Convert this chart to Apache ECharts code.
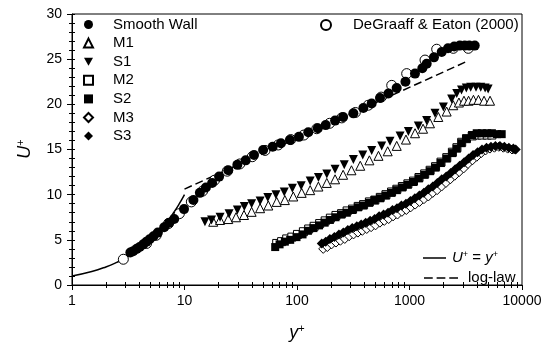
<!DOCTYPE html>
<html>
<head>
<meta charset="utf-8">
<script src="https://cdn.jsdelivr.net/npm/echarts@6/dist/echarts.min.js"></script>
<style>
  html, body { margin: 0; padding: 0; background: #fff; }
  #main { width: 545px; height: 350px; }
</style>
</head>
<body>
<div id="main"></div>
<script>
// values: [y+, U+]
var smoothWall = [[3.3,3.6],[3.5,3.75],[3.76,4.0],[4.0,4.2],[4.3,4.5],[4.6,4.8],[4.9,5.06],[5.3,5.4],[5.8,5.8],[6.6,6.4],[7.3,6.9],[8.1,7.3],[9.9,8.4],[12,9.4],[13.7,10.2],[15.5,10.8],[17.6,11.3],[20.3,12.0],[24.5,12.7],[29.5,13.3],[35,13.8],[41.5,14.4],[50,14.95],[60.8,15.3],[72,15.7],[86.7,16.05],[104,16.4],[126,16.9],[153,17.35],[180,17.7],[218,18.2],[257,18.6],[317,19.0],[389,19.6],[461,20.1],[547,20.7],[650,21.2],[769,21.8],[920,22.5],[1119,23.4],[1300,24.0],[1422,24.5],[1650,25.2],[1932,25.8],[2200,26.2],[2500,26.4],[2800,26.5],[3100,26.5],[3400,26.5],[3800,26.5]];
var degraaff = [[2.86,2.85],[4.6,4.6],[5.6,5.5],[7.2,6.8],[9.0,7.9],[11.5,9.2],[14.5,10.4],[18.5,11.6],[24,12.6],[31,13.4],[40,14.2],[52,14.9],[68,15.5],[88,16.1],[115,16.6],[150,17.3],[195,17.9],[250,18.5],[330,19.1],[430,19.9],[560,20.8],[695,22.1],[944,23.4],[1374,24.9],[1745,26.1],[2450,26.2],[3330,26.2]];
var m1 = [[18,7.0],[20.7,7.2],[24.5,7.3],[28.7,7.5],[33.8,7.75],[39.5,8.1],[47,8.5],[55.6,8.8],[66,9.2],[78,9.4],[92.7,9.8],[110,10.2],[131,10.5],[155,10.9],[184,11.3],[218,11.7],[257,12.2],[305,12.7],[365,13.2],[440,13.8],[530,14.3],[640,14.8],[770,15.4],[930,16.1],[1120,16.8],[1320,17.3],[1521,17.9],[1803,18.6],[2140,19.2],[2450,19.9],[2750,20.2],[3050,20.4],[3350,20.4],[3700,20.5],[4100,20.5],[4600,20.4],[5200,20.4]];
var s1 = [[15.2,7.0],[17.4,7.2],[20.7,7.5],[24.9,7.9],[29.5,8.3],[34,8.7],[39.5,9.0],[47,9.3],[55,9.7],[65,10.0],[77,10.3],[91,10.7],[109,11.0],[131,11.5],[155,11.9],[184,12.3],[218,12.8],[263,13.3],[317,13.9],[384,14.4],[461,14.9],[566,15.4],[671,15.9],[824,16.5],[977,17.0],[1197,17.6],[1420,18.2],[1686,19.0],[2000,19.7],[2370,20.6],[2630,21.2],[2900,21.6],[3200,21.8],[3500,21.9],[3900,21.9],[4300,21.9],[4700,21.8],[5000,21.7]];
var m2 = [[66,4.6],[73,4.8],[81,5.1],[90,5.3],[101,5.6],[114,5.9],[127,6.2],[142,6.5],[159,6.8],[178,7.1],[198,7.4],[222,7.7],[249,7.9],[279,8.2],[312,8.4],[350,8.7],[391,8.9],[440,9.2],[492,9.4],[550,9.7],[618,10.0],[693,10.3],[772,10.6],[864,10.9],[968,11.2],[1085,11.5],[1215,11.9],[1365,12.3],[1525,12.7],[1705,13.1],[1905,13.6],[2145,14.1],[2405,14.7],[2640,15.2],[2910,15.8],[3210,16.2],[3610,16.5],[3970,16.6],[4410,16.6],[4910,16.6],[5400,16.6]];
var s2 = [[64,4.2],[70,4.5],[78,4.8],[87,5.0],[99,5.3],[112,5.6],[125,6.0],[140,6.3],[157,6.6],[176,6.9],[196,7.2],[220,7.5],[247,7.8],[277,8.0],[310,8.3],[348,8.6],[389,8.8],[437,9.1],[490,9.4],[547,9.6],[615,9.9],[690,10.2],[769,10.5],[860,10.8],[965,11.1],[1081,11.4],[1210,11.8],[1360,12.2],[1521,12.6],[1700,13.0],[1900,13.5],[2140,14.0],[2400,14.6],[2630,15.1],[2900,15.7],[3200,16.2],[3600,16.6],[3960,16.8],[4400,16.8],[4900,16.8],[5400,16.8],[6000,16.7],[6600,16.7]];
var m3 = [[171,4.0],[186,4.2],[203,4.5],[222,4.7],[243,4.9],[266,5.1],[291,5.4],[318,5.6],[348,5.8],[381,6.0],[417,6.2],[456,6.4],[499,6.6],[546,6.9],[597,7.1],[653,7.3],[715,7.6],[782,7.8],[856,8.1],[937,8.3],[1025,8.6],[1122,8.9],[1228,9.2],[1344,9.5],[1470,9.8],[1609,10.2],[1761,10.5],[1927,10.9],[2109,11.3],[2308,11.7],[2526,12.1],[2764,12.5],[3025,12.9],[3311,13.4],[3623,13.8],[3965,14.2],[4339,14.6],[4749,14.9],[5197,15.1],[5688,15.2],[6224,15.3],[6812,15.2],[7455,15.1],[8158,15.0],[8600,15.0]];
var s3 = [[166,4.6],[180,4.8],[196,5.1],[215,5.3],[236,5.6],[258,5.8],[283,6.1],[310,6.3],[340,6.5],[372,6.7],[408,6.9],[447,7.1],[490,7.3],[537,7.6],[588,7.8],[645,8.0],[706,8.3],[774,8.5],[848,8.8],[930,9.0],[1019,9.3],[1117,9.6],[1224,9.9],[1341,10.2],[1470,10.6],[1611,10.9],[1766,11.3],[1935,11.7],[2121,12.0],[2324,12.4],[2547,12.8],[2791,13.2],[3059,13.6],[3352,14.0],[3674,14.4],[4026,14.7],[4412,15.0],[4835,15.2],[5299,15.3],[5807,15.4],[6364,15.4],[6975,15.3],[7644,15.2],[8377,15.1],[8800,15.0]];
var viscousLine = [[1,1],[1.5,1.5],[2,2],[2.5,2.5],[3,3],[4,4],[5,5],[6,6],[7,7],[8,8],[9,9],[10,10]];
var logLawLine = [[10,10.62],[3300,24.8]];

// minor tick positions of the log axis (2..9 in every decade)
var xMinorTicks = [2,3,4,5,6,7,8,9,20,30,40,50,60,70,80,90,200,300,400,500,600,700,800,900,2000,3000,4000,5000,6000,7000,8000,9000];

var FONT = 'Liberation Sans, Arial, sans-serif';
var downTri = 'path://M0,0 L10,0 L5,9 Z';
var solidIcon = 'path://M0,0 H23 V1.5 H0 Z';
var dashIcon = 'path://M0,0 H9 V1.5 H0 Z M13,0 H22 V1.5 H13 Z M26,0 H35 V1.5 H26 Z';
var gridBox = {left: 72, right: 23, top: 14, bottom: 65};

var myChart = echarts.init(document.getElementById('main'));

// tick-only axes live in log10 space so the custom values stay inside the extent
var minorLogPos = xMinorTicks.map(function (v) { return Math.log10(v); });
function tickAxis(gridIndex, inside) {
    return {
        gridIndex: gridIndex, type: 'value', min: 0, max: 4, position: 'bottom',
        axisLine: {show: false},
        axisLabel: {show: false},
        splitLine: {show: false},
        axisTick: {show: true, inside: inside, length: 3, lineStyle: {color: '#000', width: 1}, customValues: minorLogPos}
    };
}

function scatter(name, data, symbol, size, filled, z) {
    return {
        name: name,
        type: 'scatter',
        data: data,
        symbol: symbol,
        symbolSize: size,
        z: z,
        itemStyle: filled
            ? {color: '#000', borderColor: '#000', borderWidth: 0, opacity: 1}
            : {color: '#fff', borderColor: '#000', borderWidth: 1, opacity: 1}
    };
}

var s1Series = scatter('S1', s1, 'triangle', 9, true, 4);
s1Series.symbolRotate = 180;

var supRich = {
    i: {fontFamily: FONT, fontSize: 18, fontStyle: 'italic', color: '#000'},
    s: {fontFamily: FONT, fontSize: 11, color: '#000', padding: [0, 0, 9, 0]}
};

var option = {
    animation: false,
    backgroundColor: '#fff',
    textStyle: {fontFamily: FONT, color: '#000'},
    grid: [
        Object.assign({show: true, borderColor: '#000', borderWidth: 1, backgroundColor: 'transparent'}, gridBox),
        Object.assign({show: false}, gridBox),
        Object.assign({show: false}, gridBox)
    ],
    graphic: [{
        type: 'text',
        x: 25, y: 149,
        rotation: Math.PI / 2,
        style: {
            text: '{i|U}{s|+}',
            rich: supRich,
            align: 'center',
            verticalAlign: 'middle'
        }
    }],
    legend: [
        {
            orient: 'vertical', left: 83, top: 17, padding: 0,
            itemWidth: 9, itemHeight: 9, itemGap: 3.6,
            textStyle: {fontFamily: FONT, fontSize: 15, color: '#000', padding: [0, 0, 0, 15]},
            data: [
                {name: 'Smooth Wall', icon: 'circle'},
                {name: 'M1', icon: 'triangle'},
                {name: 'S1', icon: downTri},
                {name: 'M2', icon: 'rect'},
                {name: 'S2', icon: 'rect'},
                {name: 'M3', icon: 'diamond'},
                {name: 'S3', icon: 'diamond'}
            ]
        },
        {
            left: 320, top: 17.5, padding: 0,
            itemWidth: 10, itemHeight: 10,
            textStyle: {fontFamily: FONT, fontSize: 15, color: '#000', padding: [0, 0, 0, 17]},
            data: [{name: 'DeGraaff & Eaton (2000)', icon: 'circle'}]
        },
        {
            left: 423, top: 250, padding: 0,
            itemWidth: 23, itemHeight: 1.5,
            textStyle: {
                fontFamily: FONT, fontSize: 15, color: '#000', padding: [0, 0, 0, 1],
                rich: {
                    i: {fontFamily: FONT, fontSize: 15, fontStyle: 'italic'},
                    s: {fontFamily: FONT, fontSize: 9, padding: [0, 0, 7, 0]}
                }
            },
            formatter: function () { return '{i|U}{s|+} = {i|y}{s|+}'; },
            data: [{name: 'U+ = y+', icon: solidIcon}]
        },
        {
            left: 424, top: 270.5, padding: 0,
            itemWidth: 34, itemHeight: 1.5,
            textStyle: {fontFamily: FONT, fontSize: 15, color: '#000', padding: [0, 0, 0, 5]},
            data: [{name: 'log-law', icon: dashIcon}]
        }
    ],
    xAxis: [
        {
            gridIndex: 0,
            type: 'log', logBase: 10, min: 1, max: 10000,
            name: '{i|y}{s|+}',
            nameLocation: 'middle',
            nameGap: 38,
            nameTextStyle: {rich: supRich},
            axisLine: {show: true, lineStyle: {color: '#000', width: 1}},
            axisLabel: {
                fontFamily: FONT, fontSize: 14, color: '#000', margin: 9,
                formatter: function (v) { return String(v); }
            },
            axisTick: {show: true, length: 5, lineStyle: {color: '#000'}},
            splitLine: {show: false}
        },
        tickAxis(1, false),
        tickAxis(2, true)
    ],
    yAxis: [
        {
            gridIndex: 0,
            type: 'value', min: 0, max: 30, interval: 5,
            axisLine: {show: true, lineStyle: {color: '#000', width: 1}},
            axisLabel: {fontFamily: FONT, fontSize: 14, color: '#000', margin: 10},
            axisTick: {show: true, length: 5, lineStyle: {color: '#000'}},
            minorTick: {show: true, splitNumber: 5, length: 3, lineStyle: {color: '#000'}},
            splitLine: {show: false}
        },
        {
            gridIndex: 1, show: false,
            type: 'value', min: 0, max: 30, interval: 5
        },
        {
            gridIndex: 2,
            type: 'value', min: 0, max: 30, interval: 5, position: 'left',
            axisLine: {show: false},
            axisLabel: {show: false},
            axisTick: {show: true, inside: true, length: 3, lineStyle: {color: '#000'}},
            minorTick: {show: true, splitNumber: 5, length: 3, lineStyle: {color: '#000'}},
            splitLine: {show: false}
        }
    ],
    series: [
        scatter('DeGraaff & Eaton (2000)', degraaff, 'circle', 10, false, 2),
        scatter('Smooth Wall', smoothWall, 'circle', 10, true, 3),
        scatter('M1', m1, 'triangle', 9, false, 2),
        s1Series,
        scatter('M2', m2, 'rect', 8, false, 2),
        scatter('S2', s2, 'rect', 8, true, 3),
        scatter('M3', m3, 'diamond', 9, false, 2),
        scatter('S3', s3, 'diamond', 10, true, 3),
        {
            name: 'U+ = y+', type: 'line', data: viscousLine, smooth: true,
            symbol: 'none', z: 1, color: '#000',
            lineStyle: {color: '#000', width: 1.5}
        },
        {
            name: 'log-law', type: 'line', data: logLawLine,
            symbol: 'none', z: 1, color: '#000',
            lineStyle: {color: '#000', width: 1.5, type: [8, 4]}
        }
    ]
};

myChart.setOption(option);
</script>
</body>
</html>
